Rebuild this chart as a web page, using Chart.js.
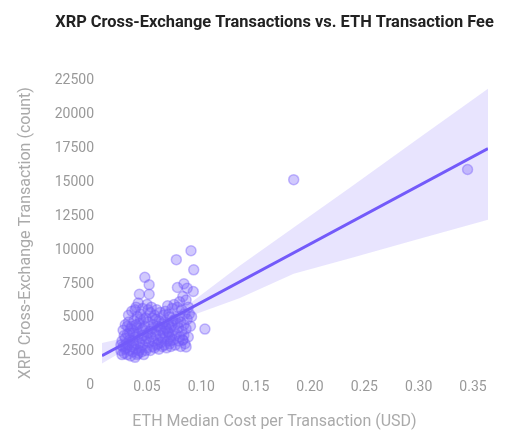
<!DOCTYPE html>
<html>
<head>
<meta charset="utf-8">
<script src="https://cdn.jsdelivr.net/npm/chart.js@4"></script>
<style>
  html, body { margin: 0; padding: 0; background: #fff; }
  #wrap { width: 529px; height: 438px; }
</style>
</head>
<body>
<div id="wrap"><canvas id="chart"></canvas></div>
<script>
// Dados (custo ETH em USD vs. transações XRP)
const feeUsd = [
  0.026,0.027,0.028,0.028,0.029,0.030,0.030,0.031,0.031,0.032,0.032,0.033,0.033,0.034,0.034,0.035,0.035,0.029,0.027,0.033,0.030,0.032,0.034,0.026,
  0.036,0.036,0.037,0.037,0.038,0.038,0.039,0.039,0.040,0.040,0.040,0.041,0.041,0.042,0.042,0.043,0.043,0.044,0.044,0.045,0.045,0.036,0.038,0.039,0.041,0.042,0.043,0.044,0.037,0.040,0.045,0.043,
  0.046,0.046,0.047,0.047,0.048,0.048,0.049,0.049,0.050,0.050,0.051,0.051,0.052,0.052,0.052,0.053,0.053,0.054,0.054,0.055,0.055,0.047,0.049,0.051,0.053,0.046,0.050,0.054,
  0.056,0.056,0.057,0.057,0.058,0.058,0.059,0.059,0.060,0.060,0.061,0.061,0.062,0.062,0.063,0.063,0.064,0.064,0.065,0.065,0.058,0.060,0.062,0.064,
  0.066,0.066,0.067,0.067,0.068,0.068,0.069,0.069,0.070,0.070,0.071,0.071,0.072,0.072,0.073,0.073,0.074,0.074,0.075,0.075,0.067,0.069,0.071,0.073,0.070,0.072,
  0.076,0.076,0.077,0.077,0.078,0.078,0.079,0.079,0.080,0.080,0.081,0.081,0.082,0.082,0.083,0.083,0.084,0.084,0.085,0.085,0.084,0.083,0.080,0.078,
  0.086,0.086,0.086,0.087,0.087,0.088,0.088,0.089,0.0905,0.093,0.0926,0.090,0.091,0.1033,
  0.185,0.345
];
const xrpCount = [
  2600,3300,2900,4100,2400,3500,4500,2800,3100,3800,2300,4700,3000,2600,3400,4200,2200,3700,2300,5200,2700,4400,3900,3000,
  2900,5500,3300,2500,4000,4800,2100,3600,5800,3100,2700,4300,5100,2400,3800,4600,3200,2800,5300,3500,4100,4400,3000,5600,2300,6100,2600,4900,3900,4500,2500,6750,
  3000,5700,3700,2300,4400,8000,3300,5000,2800,6000,3900,4700,7450,6750,3200,5400,2600,4200,3600,5000,2900,4900,2600,5600,4000,4200,3500,5800,
  3300,4500,2800,5200,3800,4100,3000,5600,4400,3400,4800,2700,3700,5400,4100,3200,4600,2900,3900,5200,4900,3100,4300,3500,
  3000,4700,3600,5500,4200,2800,3300,5900,4500,3900,3100,5100,4300,2900,3700,5700,4800,3400,4100,6000,4300,4000,3600,4500,5300,3300,
  3000,4900,3800,9300,7250,5800,4300,3300,5100,3600,4700,2900,4000,5600,3400,6580,7520,4500,3100,5300,3730,3360,6200,4600,
  2870,6330,4200,7200,4900,3600,5800,5300,9960,8550,6950,4400,5100,4180,
  15200,15950
];

// Reta de regressão e faixa de confiança
const fitX = [0.0086, 0.3638];
const fitY = [2220, 17500];
const bandX = [0.0086, 0.03, 0.06, 0.09, 0.135, 0.185, 0.237, 0.30, 0.3638];
const bandUpper = [3150, 3550, 4650, 6100, 8830, 11670, 14620, 18250, 21900];
const bandLower = [1650, 2650, 4050, 5150, 6450, 8260, 9400, 10820, 12240];

const xTicks = [0.05, 0.10, 0.15, 0.20, 0.25, 0.30, 0.35];
const yTicks = [0, 2500, 5000, 7500, 10000, 12500, 15000, 17500, 20000, 22500];

const ROXO = 'rgb(115, 90, 250)';
const pts = (xs, ys) => xs.map((x, i) => ({ x, y: ys[i] }));

Chart.defaults.font.family = 'Roboto, sans-serif';
Chart.defaults.color = '#999';

new Chart(document.getElementById('chart'), {
  type: 'scatter',
  data: {
    datasets: [
      { type: 'line', data: pts(fitX, fitY), borderColor: ROXO, borderWidth: 3, pointRadius: 0, order: 0 },
      { data: pts(feeUsd, xrpCount), backgroundColor: 'rgba(115, 90, 250, 0.33)', borderColor: 'rgba(115, 90, 250, 0.4)',
        borderWidth: 1.5, pointRadius: 5, order: 1 },
      { type: 'line', data: pts(bandX, bandUpper), borderWidth: 0, pointRadius: 0,
        backgroundColor: 'rgba(115, 90, 250, 0.16)', fill: '+1', order: 2 },
      { type: 'line', data: pts(bandX, bandLower), borderWidth: 0, pointRadius: 0, fill: false, order: 3 }
    ]
  },
  options: {
    responsive: true,
    maintainAspectRatio: false,
    animation: false,
    layout: { padding: { left: 20, right: 0, top: 0, bottom: 0 } },
    plugins: {
      legend: { display: false },
      tooltip: { enabled: false },
      title: {
        display: true, text: 'XRP Cross-Exchange Transactions vs. ETH Transaction Fee',
        color: '#222', font: { size: 16.4, weight: 'bold' }, padding: { top: 13, bottom: 48 }
      },
      subtitle: {
        display: true, position: 'bottom', text: 'ETH Median Cost per Transaction (USD)',
        color: '#aaa', font: { size: 16 }, padding: { top: 18, bottom: 6 }
      }
    },
    scales: {
      x: {
        type: 'linear', min: 0.0086, max: 0.3638,
        grid: { display: false, drawTicks: false }, border: { display: false },
        afterBuildTicks: s => { s.ticks = xTicks.map(v => ({ value: v })); },
        afterFit: s => { s.height = 9; },
        // mirror evita o recorte dos rótulos, que ficam na altura do "0" do eixo y
        ticks: { mirror: true, padding: -10, font: { size: 14 }, callback: v => v.toFixed(2) }
      },
      y: {
        min: 0, max: 22500,
        grid: { display: false, drawTicks: false }, border: { display: false },
        afterBuildTicks: s => { s.ticks = yTicks.map(v => ({ value: v })); },
        afterFit: s => { s.width = 82; },
        ticks: { padding: 8, font: { size: 14 }, callback: v => String(v) },
        title: { display: true, text: 'XRP Cross-Exchange Transaction (count)', color: '#aaa',
          font: { size: 16 }, padding: { top: -4, bottom: 0 } }
      },
      // eixo vazio à direita, só para reservar espaço
      yR: {
        position: 'right', display: true,
        grid: { display: false, drawTicks: false }, border: { display: false },
        ticks: { display: false },
        afterFit: s => { s.width = 41; }
      }
    }
  }
});
</script>
</body>
</html>
